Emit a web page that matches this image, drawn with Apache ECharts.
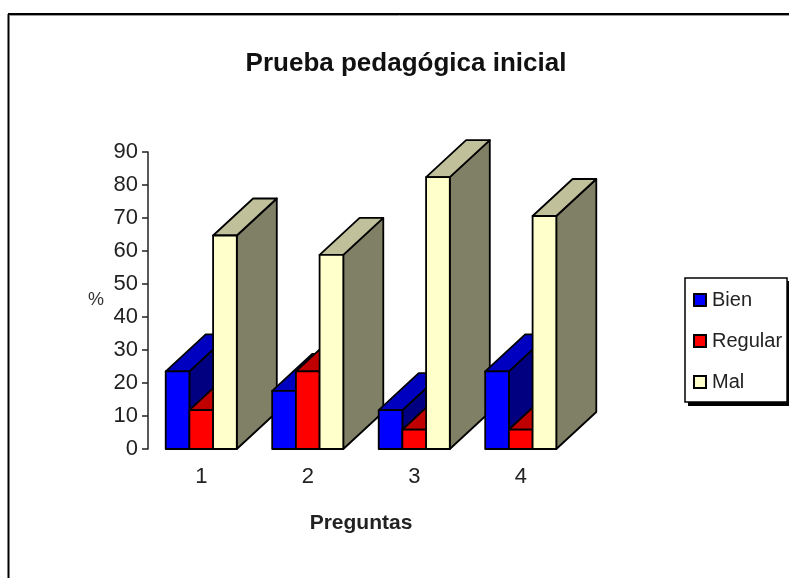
<!DOCTYPE html>
<html>
<head>
<meta charset="utf-8">
<style>html,body{margin:0;padding:0;background:#fff}#main{width:789px;height:578px}</style>
<script src="https://cdn.jsdelivr.net/npm/echarts@6/dist/echarts.min.js"></script>
</head>
<body>
<div id="main"></div>
<script>
var categories = ['1', '2', '3', '4'];
var bien = [23.5, 17.6, 11.8, 23.5];
var regular = [11.8, 23.5, 5.9, 5.9];
var mal = [64.7, 58.8, 82.4, 70.6];

var FONT = '"Liberation Sans", Arial, sans-serif';
var DEPTH_X = 40, DEPTH_Y = 37, BAR_FRACTION = 0.2225;

// 3d box: front, top and side faces
function makeRender(seriesIndex, colors) {
  return function (params, api) {
    var cat = api.value(0);
    var base = api.coord([cat, 0]);
    var top = api.coord([cat, api.value(1)]);
    var w = api.size([1, 0])[0] * BAR_FRACTION;
    var x0 = base[0] + (seriesIndex - 1.5) * w;
    var x1 = x0 + w;
    var yb = base[1], yt = top[1];
    var z2 = cat * 10 + seriesIndex;
    var line = { stroke: '#000', lineWidth: 1.8, lineJoin: 'round' };
    function poly(points, fill) {
      return {
        type: 'polygon',
        z2: z2,
        shape: { points: points },
        style: Object.assign({ fill: fill }, line)
      };
    }
    return {
      type: 'group',
      children: [
        poly([[x1, yb], [x1 + DEPTH_X, yb - DEPTH_Y], [x1 + DEPTH_X, yt - DEPTH_Y], [x1, yt]], colors.side),
        poly([[x0, yt], [x0 + DEPTH_X, yt - DEPTH_Y], [x1 + DEPTH_X, yt - DEPTH_Y], [x1, yt]], colors.top),
        poly([[x0, yb], [x1, yb], [x1, yt], [x0, yt]], colors.front)
      ]
    };
  };
}

function makeSeries(name, values, index, colors) {
  return {
    name: name,
    type: 'custom',
    renderItem: makeRender(index, colors),
    encode: { x: 0, y: 1 },
    itemStyle: { color: colors.front, borderColor: '#000', borderWidth: 1.5 },
    silent: true,
    data: values.map(function (v, i) { return [i, v]; })
  };
}

var myChart = echarts.init(document.getElementById('main'), null, { renderer: 'canvas' });
myChart.setOption({
  animation: false,
  backgroundColor: '#fff',
  textStyle: { fontFamily: FONT, color: '#000' },
  title: {
    text: 'Prueba pedagógica inicial',
    left: 401,
    textAlign: 'center',
    top: 46,
    textStyle: { fontFamily: FONT, fontSize: 26, fontWeight: 'bold', color: '#111' }
  },
  grid: { left: 148, right: 215, top: 152, bottom: 129 },
  xAxis: {
    type: 'category',
    data: categories,
    axisLine: { show: false },
    axisTick: { show: false },
    axisLabel: { fontFamily: FONT, fontSize: 22, color: '#222', margin: 17 },
    name: 'Preguntas',
    nameLocation: 'middle',
    nameGap: 64,
    nameTextStyle: { fontFamily: FONT, fontSize: 21, fontWeight: 'bold', color: '#222' }
  },
  yAxis: {
    type: 'value',
    min: 0,
    max: 90,
    interval: 10,
    axisLine: { show: true, lineStyle: { color: '#222', width: 1.5 } },
    axisTick: { show: true, length: 6, lineStyle: { color: '#222', width: 1.5 } },
    splitLine: { show: false },
    axisLabel: { fontFamily: FONT, fontSize: 22, color: '#222', margin: 10 },
    name: '%',
    nameLocation: 'middle',
    nameRotate: 0,
    nameGap: 44,
    nameTextStyle: { fontFamily: FONT, fontSize: 18, color: '#333', padding: [4, 0, 0, 0] }
  },
  legend: {
    orient: 'vertical',
    left: 685,
    top: 278,
    padding: [12, 5, 10, 8],
    icon: 'rect',
    itemWidth: 12,
    itemHeight: 12,
    itemGap: 21,
    backgroundColor: '#fff',
    borderColor: '#000',
    borderWidth: 1.5,
    textStyle: { fontFamily: FONT, fontSize: 20, color: '#222', padding: [0, 0, 0, 1] },
    data: ['Bien', 'Regular', 'Mal']
  },
  graphic: [
    { type: 'line', silent: true, shape: { x1: 8, y1: 14, x2: 789, y2: 14 }, style: { stroke: '#000', lineWidth: 2 } },
    { type: 'line', silent: true, shape: { x1: 8.5, y1: 14, x2: 8.5, y2: 578 }, style: { stroke: '#000', lineWidth: 2 } },
    { type: 'line', silent: true, shape: { x1: 10, y1: 15.5, x2: 789, y2: 15.5 }, style: { stroke: '#999', lineWidth: 1 } },
    // legend drop shadow, sits behind the legend box
    { type: 'rect', silent: true, z: 0, shape: { x: 688, y: 281, width: 101, height: 125 }, style: { fill: '#000' } }
  ],
  series: [
    makeSeries('Bien', bien, 0, { front: '#0000ff', top: '#0000c0', side: '#000080' }),
    makeSeries('Regular', regular, 1, { front: '#ff0000', top: '#c00000', side: '#800000' }),
    makeSeries('Mal', mal, 2, { front: '#ffffcc', top: '#c0c09a', side: '#808066' })
  ]
});
</script>
</body>
</html>
